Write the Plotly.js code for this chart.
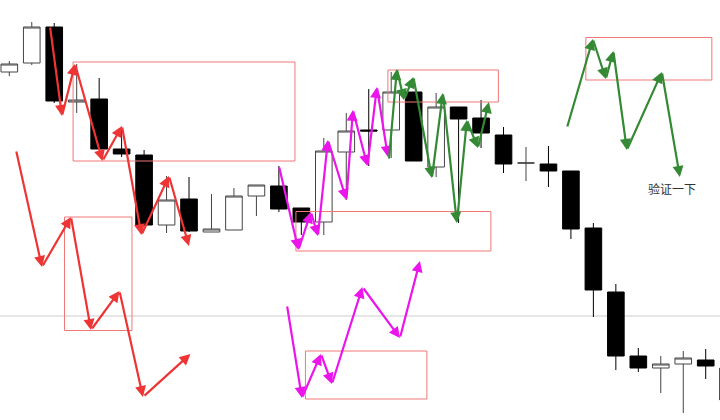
<!DOCTYPE html>
<html>
<head>
<meta charset="utf-8">
<script src="https://cdn.plot.ly/plotly-3.0.1.min.js"></script>
<style>html,body{margin:0;padding:0;background:#fff;}#chart{width:720px;height:420px;}</style>
</head>
<body>
<div id="chart"></div>
<script>
// Candles (bar index, price units)
var barIndex = [0,1,2,3,4,5,6,7,8,9,10,11,12,13,14,15,16,17,18,19,20,21,22,23,24,25,26,27,28,29,30,31,32];
var openVals  = [348,357,393,318,321,271,265,195,221,188,190,224,234,212,198,268,290,290,328,253,313,302,285,257,256,249,192,128,64,52,56,60,52];
var highVals  = [359,398,397,356,342,290,270,244,243,226,232,235,254,212,282,307,331,348,328,327,313,320,293,273,274,249,197,136,72,64,69,71,55];
var lowVals   = [344,355,317,307,271,263,194,187,188,188,190,204,208,185,185,220,254,262,259,243,197,272,247,239,233,181,103,50,48,27,7,41,15];
var closeVals = [356,393,319,320,271,266,195,220,189,191,224,235,211,198,269,289,289,328,259,313,301,287,256,257,249,191,130,64,52,56,62,54,20];

// Hand-drawn zigzag arrows (vertex lists: bar index, price)
var redUpperX = [1.81,2.345,2.924,4.148,5.016,5.883,7.107,7.997];
var redUpperY = [394,304,356,259,294,185,244,174];
var redLowerX = [0.298,1.455,2.746,3.636,4.904,5.950,8.064];
var redLowerY = [270,153,203,90,129,23,66];
var magUpperX = [12.003,12.871,13.427,13.738,14.183,15.007,15.296,15.941,16.364,16.854];
var magUpperY = [254,170,208,184,280,220,310,254,333,263];
var magLowerX = [12.359,13.026,13.872,14.361,15.719,17.388,18.278];
var magLowerY = [115,22,66,36,133,82,159];
var greenMidX = [16.898,17.254,17.566,17.989,18.812,19.301,19.924,20.369,20.859,21.349];
var greenMidY = [260,351,320,343,242,327,197,300,272,318];
var greenRightX = [24.820,25.977,26.555,26.889,27.490,29.048,29.849];
var greenRightY = [292,381,341,369,270,348,243];

// Boxes: [x0, x1, y0, y1]
var boxX0 = [2.839,2.457,13.182,12.759,16.853,25.665];
var boxX1 = [12.715,5.461,18.589,21.437,21.771,31.273];
var boxY0 = [259,89.5,21,169,318,340];
var boxY1 = [358,203,69,208.5,350,382.5];

var noteText = '验证一下';
var noteX = 29.49, noteY = 232;
var refLevel = 104;

var annotations = [];
function addPath(xs, ys, color) {
  for (var i = 1; i < xs.length; i++) {
    annotations.push({
      x: xs[i], y: ys[i], ax: xs[i-1], ay: ys[i-1],
      xref: 'x', yref: 'y', axref: 'x', ayref: 'y',
      text: '', showarrow: true, arrowhead: 2, arrowsize: 1, arrowwidth: 2.2,
      arrowcolor: color, standoff: 0, startstandoff: 0
    });
  }
}
var RED = 'rgb(238,52,52)', MAG = 'rgb(235,20,235)', GRN = 'rgb(52,138,52)';
addPath(redUpperX, redUpperY, RED);
addPath(redLowerX, redLowerY, RED);
addPath(magUpperX, magUpperY, MAG);
addPath(magLowerX, magLowerY, MAG);
addPath(greenMidX, greenMidY, GRN);
addPath(greenRightX, greenRightY, GRN);
annotations.push({x: noteX, y: noteY, xref: 'x', yref: 'y', text: noteText, showarrow: false,
  font: {family: 'Noto Sans CJK SC', size: 12, color: '#333'}});

var shapes = [{type: 'line', xref: 'paper', x0: 0, x1: 1, yref: 'y', y0: refLevel, y1: refLevel,
  line: {color: '#dddddd', width: 1.5}, layer: 'below'}];
for (var k = 0; k < boxX0.length; k++) {
  shapes.push({type: 'rect', xref: 'x', yref: 'y', x0: boxX0[k], x1: boxX1[k], y0: boxY0[k], y1: boxY1[k],
    line: {color: 'rgb(240,120,120)', width: 1}, fillcolor: 'rgba(0,0,0,0)'});
}

var trace = {
  type: 'candlestick', x: barIndex, open: openVals, high: highVals, low: lowVals, close: closeVals,
  increasing: {line: {color: '#444', width: 1}, fillcolor: '#ffffff'},
  decreasing: {line: {color: '#000', width: 1}, fillcolor: '#000000'},
  whiskerwidth: 0, hoverinfo: 'skip'
};

var layout = {
  width: 720, height: 420, margin: {l: 0, r: 0, t: 0, b: 0},
  paper_bgcolor: '#fff', plot_bgcolor: '#fff', showlegend: false,
  boxgap: 0.26, boxgroupgap: 0,
  xaxis: {range: [-0.414, 31.636], visible: false, rangeslider: {visible: false}, fixedrange: true},
  yaxis: {range: [0, 420], visible: false, fixedrange: true},
  shapes: shapes, annotations: annotations
};
Plotly.newPlot('chart', [trace], layout, {staticPlot: true});
</script>
</body>
</html>
